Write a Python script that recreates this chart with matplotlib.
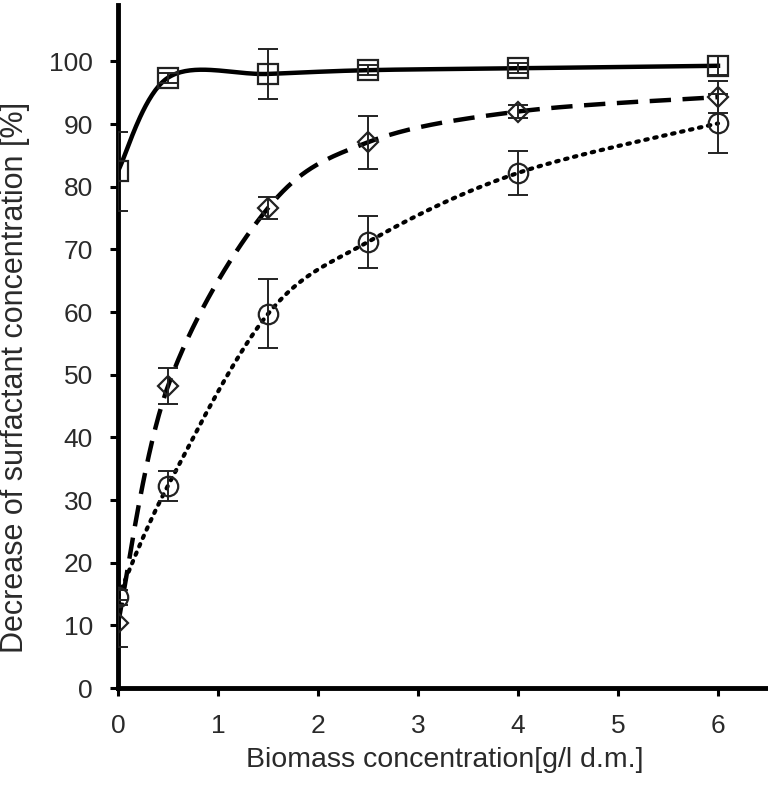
import matplotlib
matplotlib.use("Agg")
import matplotlib.pyplot as plt
import numpy as np

plt.rcParams['font.family'] = ['Liberation Sans', 'DejaVu Sans']

# biomass concentration [g/l d.m.]
biomass = [0, 0.5, 1.5, 2.5, 4, 6]

# decrease of surfactant concentration [%] and error
squares = [82.5, 97.4, 98.0, 98.6, 98.9, 99.3]
squares_err = [6.3, 0.8, 4.0, 0.8, 0.8, 1.5]
diamonds = [10.3, 48.2, 76.6, 87.1, 92.0, 94.3]
diamonds_err = [3.7, 2.8, 1.8, 4.2, 1.0, 2.5]
circles = [14.5, 32.3, 59.7, 71.2, 82.2, 90.1]
circles_err = [1.2, 2.4, 5.5, 4.2, 3.5, 4.7]


def smooth(xs, ys, n=40):
    """Excel-like smoothed line (bezier through the points)"""
    p = np.column_stack([xs, ys]).astype(float)
    p = np.vstack([p[0], p, p[-1]])
    t = np.linspace(0, 1, n)[:, None]
    out = []
    for i in range(1, len(p) - 2):
        p0, p1, p2, p3 = p[i - 1], p[i], p[i + 1], p[i + 2]
        b1 = p1 + (p2 - p0) / 6
        b2 = p2 - (p3 - p1) / 6
        seg = ((1 - t) ** 3) * p1 + 3 * ((1 - t) ** 2) * t * b1 \
            + 3 * (1 - t) * t ** 2 * b2 + t ** 3 * p2
        out.append(seg)
    out = np.vstack(out)
    return out[:, 0], out[:, 1]


fig = plt.figure(figsize=(7.68, 7.87), dpi=100)
ax = fig.add_axes([118 / 768, 99 / 787, 650 / 768, 683 / 787])

series = [
    (squares, squares_err, 's', '-', None),
    (diamonds, diamonds_err, 'D', '--', (0, (4.8, 2.6))),
    (circles, circles_err, 'o', ':', (0, (0.6, 1.6))),
]

for vals, err, mk, ls, dash in series:
    sx, sy = smooth(biomass, vals)
    line, = ax.plot(sx, sy, color='black', lw=3.2, zorder=2)
    if dash is not None:
        line.set_linestyle(dash)
        if ls == ':':
            line.set_dash_capstyle('round')
            line.set_linewidth(3.0)
    ax.errorbar(biomass, vals, yerr=err, fmt='none', ecolor='#222222',
                elinewidth=1.4, capsize=7, capthick=1.4, zorder=3)
    ms = 14 if mk != 'D' else 10
    ax.plot(biomass, vals, linestyle='none', marker=mk, markersize=ms,
            markerfacecolor='none', markeredgecolor='#222222',
            markeredgewidth=1.6, zorder=4)

ax.set_xlim(0, 6.5)
ax.set_ylim(0, 109)
ax.set_xticks(range(0, 7))
ax.set_yticks(range(0, 101, 10))

for s in ['top', 'right']:
    ax.spines[s].set_visible(False)
for s in ['left', 'bottom']:
    ax.spines[s].set_linewidth(3.5)

ax.tick_params(direction='out', length=6, width=2.2, labelsize=19,
               labelcolor='#2a2a2a')
ax.tick_params(axis='y', pad=12)
ax.tick_params(axis='x', pad=12.5)

ax.set_xlabel('Biomass concentration[g/l d.m.]', fontsize=20.5, color='#2a2a2a')
ax.set_ylabel('Decrease of surfactant concentration [%]', fontsize=22,
              color='#2a2a2a')
ax.xaxis.set_label_coords(0.503, -0.086)
ax.yaxis.set_label_coords(-0.135, 0.455)

fig.savefig('out.png', dpi=100)
